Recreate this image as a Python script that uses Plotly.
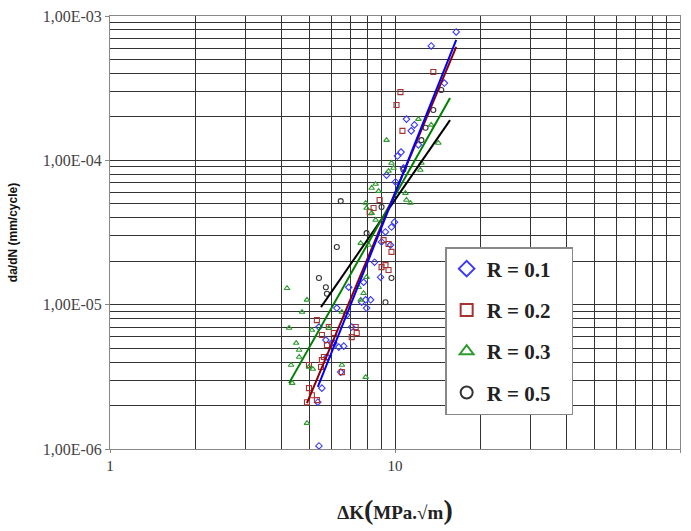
import plotly.graph_objects as go

# ---------------- data ----------------
series_names = ["R = 0.1", "R = 0.2", "R = 0.3", "R = 0.5"]

dk_r01 = [16.4, 13.4, 14.9, 10.97, 11.4, 11.7, 12.08, 10.5, 10.2, 9.34, 10.04, 9.72, 9.96, 9.26,
          9.64, 8.97, 8.48, 8.90, 7.76, 8.21, 7.89, 7.95, 7.64, 6.88, 6.25, 7.05, 6.77, 5.72,
          6.0, 6.35, 6.61, 5.77, 6.45, 5.54, 5.36, 5.41, 5.41, 6.10, 10.71]
dadn_r01 = [7.75e-4, 6.2e-4, 3.43e-4, 1.93e-4, 1.60e-4, 1.76e-4, 1.28e-4, 1.14e-4, 1.07e-4, 7.9e-5,
            7.08e-5, 3.45e-5, 3.73e-5, 3.19e-5, 2.59e-5, 2.72e-5, 1.97e-5, 1.55e-5, 1.43e-5, 1.08e-5,
            1.08e-5, 9.47e-6, 1.04e-5, 1.32e-5, 9.47e-6, 7.0e-6, 8.47e-6, 5.69e-6, 5.42e-6, 5.08e-6,
            5.16e-6, 4.34e-6, 3.41e-6, 2.64e-6, 2.11e-6, 1.05e-6, 7.0e-6, 5.42e-6, 8.85e-5]

dk_r02 = [13.63, 10.45, 10.12, 10.62, 8.83, 8.15, 8.41, 9.12, 9.49, 9.72, 8.97, 9.49, 9.26, 5.32,
          5.86, 5.54, 6.10, 5.77, 7.28, 7.34, 7.05, 5.63, 4.99, 5.54, 5.50, 6.51, 4.99, 5.11, 5.32, 4.91]
dadn_r02 = [4.09e-4, 2.97e-4, 2.42e-4, 1.60e-4, 5.31e-5, 4.38e-5, 4.67e-5, 2.80e-5, 2.63e-5, 2.32e-5,
            1.82e-5, 1.74e-5, 1.88e-5, 7.82e-6, 7.0e-6, 6.16e-6, 6.36e-6, 5.25e-6, 7.0e-6, 6.36e-6,
            5.96e-6, 4.34e-6, 3.82e-6, 4.13e-6, 3.70e-6, 3.41e-6, 2.64e-6, 2.36e-6, 2.18e-6, 2.11e-6]

dk_r03 = [9.34, 12.08, 13.4, 14.19, 12.27, 12.38, 9.72, 9.88, 9.49, 8.55, 8.28, 8.76, 10.88, 10.97,
          11.33, 7.89, 7.95, 8.28, 8.55, 7.58, 8.08, 7.95, 7.46, 7.76, 7.58, 6.51, 6.51, 7.89, 4.18,
          4.91, 4.72, 4.25, 5.11, 4.50, 4.61, 4.61, 4.32, 4.99, 5.15, 4.36, 4.91, 5.86]
dadn_r03 = [1.38e-4, 1.93e-4, 1.76e-4, 1.32e-4, 8.57e-5, 9.58e-5, 9.58e-5, 8.85e-5, 8.43e-5, 6.85e-5,
            6.43e-5, 6.12e-5, 5.93e-5, 5.31e-5, 5.06e-5, 5.06e-5, 4.67e-5, 4.31e-5, 3.86e-5, 2.67e-5,
            2.59e-5, 1.55e-5, 1.32e-5, 1.20e-5, 1.08e-5, 8.89e-6, 3.82e-6, 3.15e-6, 1.30e-5, 1.08e-5,
            8.89e-6, 6.89e-6, 6.67e-6, 5.42e-6, 4.85e-6, 4.34e-6, 3.82e-6, 3.70e-6, 3.58e-6, 2.86e-6,
            1.51e-6, 6.89e-6]

dk_r05 = [14.53, 13.63, 12.38, 8.97, 6.45, 7.95, 6.25, 5.41, 5.72, 5.77, 9.72, 9.26, 10.7, 12.8]
dadn_r05 = [3.07e-4, 2.23e-4, 1.38e-4, 4.75e-5, 5.22e-5, 3.13e-5, 2.51e-5, 1.53e-5, 1.32e-5, 1.19e-5,
            1.53e-5, 1.04e-5, 8.6e-5, 1.68e-4]

# fitted Paris-law lines (end points)
fit_dk_r01 = [5.36, 16.4]
fit_dadn_r01 = [2.69e-6, 6.82e-4]
fit_dk_r02 = [4.91, 16.4]
fit_dadn_r02 = [2.08e-6, 6.10e-4]
fit_dk_r03 = [4.25, 15.6]
fit_dadn_r03 = [2.86e-6, 2.70e-4]
fit_dk_r05 = [5.50, 15.6]
fit_dadn_r05 = [9.62e-6, 1.90e-4]

x_tick_vals = [1, 10, 100]
x_tick_text = ["1", "10", "100"]
y_tick_vals = [1e-6, 1e-5, 1e-4, 1e-3]
y_tick_text = ["1,00E-06", "1,00E-05", "1,00E-04", "1,00E-03"]

# ---------------- styles ----------------
marker_colors = ["#3a3aff", "#a83232", "#2f9a2f", "#333333"]
line_colors = ["#0000ff", "#8b0000", "#008000", "#000000"]
symbols = ["diamond-open", "square-open", "triangle-up-open", "circle-open"]

scatter_data = [(dk_r01, dadn_r01), (dk_r02, dadn_r02), (dk_r03, dadn_r03), (dk_r05, dadn_r05)]
fit_data = [(fit_dk_r01, fit_dadn_r01), (fit_dk_r02, fit_dadn_r02),
            (fit_dk_r03, fit_dadn_r03), (fit_dk_r05, fit_dadn_r05)]

fig = go.Figure()

for i, (xs, ys) in enumerate(scatter_data):
    fig.add_trace(go.Scatter(
        x=xs, y=ys, mode="markers",
        name="<b>" + series_names[i] + "</b>\u00a0\u00a0\u00a0",
        legendgroup=series_names[i],
        marker=dict(symbol=symbols[i], size=5, color=marker_colors[i], line=dict(width=1.1, color=marker_colors[i])),
    ))

for i in [3, 2, 1, 0]:
    xs, ys = fit_data[i]
    fig.add_trace(go.Scatter(
        x=xs, y=ys, mode="lines", showlegend=False, legendgroup=series_names[i],
        line=dict(color=line_colors[i], width=2),
    ))

minor_x = [m * 10 ** d for d in range(0, 2) for m in range(2, 10)]
minor_y = [m * 10.0 ** d for d in range(-6, -3) for m in range(2, 10)]

grid_col = "#333333"

fig.update_xaxes(
    type="log", range=[0, 2], automargin=False,
    tickmode="array", tickvals=x_tick_vals, ticktext=x_tick_text,
    ticks="outside", ticklen=3, tickcolor="#888",
    showgrid=True, gridcolor=grid_col, gridwidth=1,
    minor=dict(tickmode="array", tickvals=minor_x, showgrid=True, gridcolor=grid_col, gridwidth=1, ticks=""),
    showline=True, linecolor="#888", linewidth=1, mirror=True,
    tickfont=dict(family="Liberation Serif", size=15, color="#333"),
    title=dict(text="<b>ΔK<span style='font-size:28px'>(</span>MPa.√m<span style='font-size:28px'>)</span></b>",
               font=dict(family="Liberation Serif", size=19, color="#222"), standoff=32),
    zeroline=False,
)
fig.update_yaxes(
    type="log", range=[-6, -3], automargin=False,
    tickmode="array", tickvals=y_tick_vals, ticktext=y_tick_text,
    ticks="outside", ticklen=4, tickcolor="#888",
    showgrid=True, gridcolor=grid_col, gridwidth=1,
    minor=dict(tickmode="array", tickvals=minor_y, showgrid=True, gridcolor=grid_col, gridwidth=1, ticks=""),
    showline=True, linecolor="#888", linewidth=1, mirror=True,
    tickfont=dict(family="Liberation Serif", size=16, color="#444"),
    title=dict(text="<b>da/dN (mm/cycle)</b>",
               font=dict(family="Liberation Sans Narrow, Liberation Sans", size=12, color="#111"), standoff=22),
    zeroline=False,
)

fig.update_layout(
    width=691, height=531,
    margin=dict(l=110, r=11, t=16, b=82),
    paper_bgcolor="white", plot_bgcolor="white",
    legend=dict(
        x=0.588, y=0.4665, xanchor="left", yanchor="top",
        bgcolor="white", bordercolor="#888", borderwidth=1.5,
        font=dict(family="Liberation Serif", size=21, color="#222"),
        itemsizing="constant", tracegroupgap=11,
    ),
    showlegend=True,
)

fig.write_html("out.html")
